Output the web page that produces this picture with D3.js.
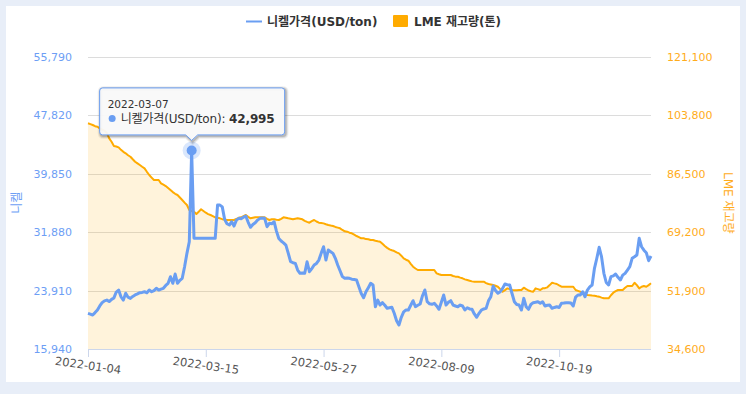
<!DOCTYPE html>
<html>
<head>
<meta charset="utf-8">
<script src="https://cdn.jsdelivr.net/npm/d3@7"></script>
<style>
body { margin: 0; background: #e8eef8; }
svg { display: block; font-family: "DejaVu Sans", "Noto Sans CJK KR", sans-serif; }
</style>
</head>
<body>
<svg id="chart" width="746" height="394"></svg>
<script>
// trading days start here, weekends and these days are skipped
const startDate = "2022-01-04";
const holidays = ["2022-04-15", "2022-04-18", "2022-05-02", "2022-06-02", "2022-06-03", "2022-08-29"];
const tickLabels = ["2022-01-04", "2022-03-15", "2022-05-27", "2022-08-09", "2022-10-19"];
const nickelTicks = [15940, 23910, 31880, 39850, 47820, 55790];
const stockTicks = [34600, 51900, 69200, 86500, 103800, 121100];

// 니켈가격 (USD/ton)
const nickel = [
  20800, 20700, 20570, 20900, 21250, 21800, 22250, 22500, 22600, 22400,
  22700, 22900, 23700, 23970, 23060, 22600, 23530, 23000, 22840, 23100,
  23300, 23450, 23610, 23650, 23740, 23600, 23970, 23740, 23900, 24210,
  23970, 24100, 24210, 24600, 24890, 25790, 24890, 26150, 24890, 25300,
  25570, 27150, 28970, 30550, 42995, 31020, 31020, 31020, 31020, 31020,
  31020, 31020, 31020, 31020, 31020, 35550, 35550, 35300, 33600, 33000,
  32830, 33280, 32690, 33500, 33740, 33700, 33900, 34050, 33200, 32520,
  32900, 33140, 33500, 33740, 33800, 33740, 32600, 33060, 33000, 33280,
  32000, 31000, 30650, 30400, 30100, 29000, 27830, 27700, 27610, 26700,
  26250, 26300, 26250, 27830, 26470, 26900, 27380, 27600, 28060, 29000,
  29870, 28060, 29420, 29200, 28970, 28300, 27380, 26600, 25800, 25570,
  25600, 25570, 25450, 25400, 25340, 24430, 23500, 22930, 23740, 24300,
  24890, 24660, 21700, 22610, 21930, 22250, 21900, 21480, 21550, 21620,
  20800, 19800, 19210, 20260, 21000, 21250, 21250, 21900, 22520, 21700,
  21900, 22070, 23200, 23980, 22380, 22100, 22030, 22160, 21800, 21350,
  22300, 23300, 21930, 22300, 22520, 21930, 21800, 21700, 21930, 21800,
  21250, 21560, 21400, 21350, 20710, 20260, 20800, 21250, 21400, 21480,
  22500, 23060, 24520, 23900, 23530, 23740, 24200, 24790, 24700, 24660,
  23500, 22380, 22000, 21930, 21250, 22840, 21700, 21350, 22000, 22250,
  22300, 22380, 22160, 22380, 21800, 21900, 21930, 21480, 21600, 21700,
  21600, 22160, 22200, 22250, 22250, 22200, 21800, 23000, 23300, 23300,
  23740, 23060, 23970, 24400, 24660, 26930, 28300, 29790, 28510, 26250,
  25000, 24660, 25790, 25900, 26150, 25700, 25340, 26000, 26250, 26700,
  27150, 28290, 28500, 28740, 31020, 29870, 29400, 29060, 27970, 28610
];

// LME 재고량 (톤)
const stock = [
  101340, 101100, 100840, 100500, 100330, 99860, 99500, 99150, 98500, 96900,
  95900, 94630, 94500, 94240, 93500, 92900, 92470, 91900, 91460, 90700,
  89980, 89500, 89010, 88500, 88030, 87000, 86050, 85300, 84570, 84570,
  84570, 83600, 83200, 82800, 82200, 81620, 81000, 80500, 80140, 79400,
  78660, 77900, 77180, 75700, 75400, 75200, 74520, 75200, 75910, 75400,
  74900, 74500, 74220, 73900, 73540, 73400, 73240, 73000, 72900, 72750,
  72750, 72750, 72750, 73100, 73400, 73540, 73900, 74220, 73700, 73240,
  73400, 73540, 73540, 73540, 73540, 73540, 73100, 72750, 72950, 72950,
  72800, 72750, 73100, 73540, 73400, 73240, 73100, 72950, 73100, 73240,
  73100, 72950, 72500, 72200, 71950, 72400, 72750, 72300, 71950, 71850,
  71750, 71500, 71270, 71100, 70970, 70700, 70500, 70290, 69800, 69400,
  69290, 69000, 68810, 68400, 68010, 67700, 67330, 67330, 67100, 67040,
  66830, 66830, 66600, 66450, 66330, 65700, 65060, 64500, 64080, 63800,
  63580, 63200, 62890, 62200, 61420, 61000, 60710, 59800, 58940, 58400,
  57960, 57960, 57960, 57960, 57960, 57960, 57960, 57960, 56980, 56700,
  56480, 56480, 56480, 56480, 56480, 56200, 56000, 55980, 55700, 55500,
  55200, 55000, 54800, 54600, 54500, 54500, 54500, 54500, 54500, 54100,
  53820, 53700, 53520, 53300, 53020, 52300, 51540, 52000, 52540, 52300,
  52050, 52000, 52000, 52050, 52050, 52730, 52300, 51900, 51700, 51540,
  52540, 52300, 52050, 52540, 52600, 52840, 53500, 54200, 54000, 53820,
  53400, 53020, 53020, 53020, 53020, 53020, 53020, 52050, 51800, 51540,
  51200, 50900, 50570, 50500, 50400, 50360, 50200, 50070, 49800, 49590,
  49590, 49590, 50500, 51250, 51700, 52050, 52050, 52050, 52700, 53230,
  53230, 53230, 54200, 53500, 52540, 53000, 53230, 53020, 53500, 54030
];

const tipIndex = 44;

const blue = "#6a9ef2", orange = "#ffab00";

// build category dates
const parse = d3.utcParse("%Y-%m-%d"), fmtDate = d3.utcFormat("%Y-%m-%d");
const categories = [];
for (let d = parse(startDate); categories.length < nickel.length; d = d3.utcDay.offset(d, 1)) {
  const s = fmtDate(d), wd = d.getUTCDay();
  if (wd !== 0 && wd !== 6 && !holidays.includes(s)) categories.push(s);
}

const svg = d3.select("#chart");
const plotL = 88, plotR = 651, plotT = 56.5, plotB = 349;

svg.append("rect").attr("x", 6).attr("y", 6).attr("width", 734).attr("height", 376).attr("fill", "#fff");

const x = d3.scalePoint().domain(categories).range([plotL, plotR]);
const yL = d3.scaleLinear().domain([nickelTicks[0], nickelTicks[nickelTicks.length - 1]]).range([plotB, plotT]);
const yR = d3.scaleLinear().domain([stockTicks[0], stockTicks[stockTicks.length - 1]]).range([plotB, plotT]);
const fmt = d3.format(",");

// grid
svg.append("g")
  .selectAll("line")
  .data(nickelTicks)
  .join("line")
  .attr("x1", plotL).attr("x2", plotR)
  .attr("y1", d => Math.round(yL(d)) + 0.5).attr("y2", d => Math.round(yL(d)) + 0.5)
  .attr("stroke", "#dcdcdc").attr("stroke-width", 1);

// stock area + line
const area = d3.area()
  .x((d, i) => x(categories[i]))
  .y0(plotB)
  .y1(d => yR(d));
svg.append("path").datum(stock).attr("d", area).attr("fill", orange).attr("fill-opacity", 0.14);

const stockLine = d3.line().x((d, i) => x(categories[i])).y(d => yR(d));
svg.append("path").datum(stock).attr("d", stockLine)
  .attr("fill", "none").attr("stroke", orange).attr("stroke-width", 2).attr("stroke-linejoin", "round");

// nickel line
const nickelLine = d3.line().x((d, i) => x(categories[i])).y(d => yL(d));
svg.append("path").datum(nickel).attr("d", nickelLine)
  .attr("fill", "none").attr("stroke", blue).attr("stroke-width", 3).attr("stroke-linejoin", "round");

// x axis
const xAxis = d3.axisBottom(x).tickValues(tickLabels).tickSize(8).tickFormat("");
const gx = svg.append("g").attr("transform", `translate(0,${plotB})`).call(xAxis);
gx.select(".domain").attr("stroke", "#ccd6eb").attr("d", `M${plotL},0.5H${plotR}`);
gx.selectAll(".tick line").attr("stroke", "#ccd6eb");
svg.append("g")
  .selectAll("text")
  .data(tickLabels)
  .join("text")
  .attr("transform", d => `translate(${x(d)},${plotB + 17}) rotate(8)`)
  .attr("text-anchor", "middle")
  .attr("dominant-baseline", "middle")
  .attr("font-size", 11.5)
  .attr("fill", "#555")
  .text(d => d);

// y axes
const gl = svg.append("g").attr("transform", `translate(${plotL},0)`)
  .call(d3.axisLeft(yL).tickValues(nickelTicks).tickFormat(fmt).tickSize(0).tickPadding(16))
  .attr("font-family", null).attr("font-size", 11);
gl.select(".domain").remove();
gl.selectAll("text").attr("fill", "#6d9ef5");

const gr = svg.append("g").attr("transform", `translate(${plotR},0)`)
  .call(d3.axisRight(yR).tickValues(stockTicks).tickFormat(fmt).tickSize(0).tickPadding(16))
  .attr("font-family", null).attr("font-size", 11);
gr.select(".domain").remove();
gr.selectAll("text").attr("fill", "#ffac1c");

svg.append("text")
  .attr("transform", `translate(17,${(plotT + plotB) / 2}) rotate(-90)`)
  .attr("text-anchor", "middle").attr("dominant-baseline", "middle")
  .attr("font-size", 12).attr("fill", "#6d9ef5").text("니켈");
svg.append("text")
  .attr("transform", `translate(727,${(plotT + plotB) / 2}) rotate(90)`)
  .attr("text-anchor", "middle").attr("dominant-baseline", "middle")
  .attr("font-size", 12).attr("fill", "#ffac1c").text("LME 재고량");

// legend
const lg = svg.append("g");
lg.append("line").attr("x1", 246).attr("x2", 262).attr("y1", 21.5).attr("y2", 21.5)
  .attr("stroke", blue).attr("stroke-width", 2);
lg.append("text").attr("x", 267).attr("y", 21.5).attr("dominant-baseline", "central")
  .attr("font-size", 12).attr("font-weight", "bold").attr("fill", "#333").text("니켈가격(USD/ton)");
lg.append("rect").attr("x", 393).attr("y", 15).attr("width", 15).attr("height", 12).attr("rx", 1)
  .attr("fill", orange);
lg.append("text").attr("x", 414).attr("y", 21.5).attr("dominant-baseline", "central")
  .attr("font-size", 12).attr("font-weight", "bold").attr("fill", "#333").text("LME 재고량(톤)");

// hovered point + tooltip
const px = x(categories[tipIndex]), py = yL(nickel[tipIndex]);
svg.append("circle").attr("cx", px).attr("cy", py).attr("r", 9).attr("fill", blue).attr("fill-opacity", 0.25);
svg.append("circle").attr("cx", px).attr("cy", py).attr("r", 5).attr("fill", blue);

const bw = 185, bh = 47;
const bx0 = px - 92, bx1 = bx0 + bw, by1 = py - 15.5, by0 = by1 - bh, r = 3;
const tipPath = `M${bx0 + r},${by0}H${bx1 - r}Q${bx1},${by0} ${bx1},${by0 + r}V${by1 - r}Q${bx1},${by1} ${bx1 - r},${by1}` +
  `H${px + 6}L${px},${py - 10}L${px - 6},${by1}H${bx0 + r}Q${bx0},${by1} ${bx0},${by1 - r}V${by0 + r}Q${bx0},${by0} ${bx0 + r},${by0}Z`;
[3, 2, 1].forEach(k => {
  svg.append("path").attr("d", tipPath).attr("transform", `translate(1,1)`)
    .attr("fill", "none").attr("stroke", "#000").attr("stroke-opacity", 0.05 * k).attr("stroke-width", 2 * (4 - k));
});
svg.append("path").attr("d", tipPath).attr("fill", "#f9f9f9").attr("fill-opacity", 0.95)
  .attr("stroke", blue).attr("stroke-width", 1);
svg.append("text").attr("x", bx0 + 8).attr("y", by0 + 20).attr("font-size", 10.5).attr("fill", "#333")
  .text(categories[tipIndex]);
svg.append("circle").attr("cx", bx0 + 12.5).attr("cy", by0 + 30.5).attr("r", 3.5).attr("fill", blue);
const t2 = svg.append("text").attr("x", bx0 + 21).attr("y", by0 + 35).attr("font-size", 12).attr("fill", "#333")
  .attr("textLength", 154).attr("lengthAdjust", "spacing");
t2.append("tspan").text("니켈가격(USD/ton): ");
t2.append("tspan").attr("font-weight", "bold").text(fmt(nickel[tipIndex]));
</script>
</body>
</html>
